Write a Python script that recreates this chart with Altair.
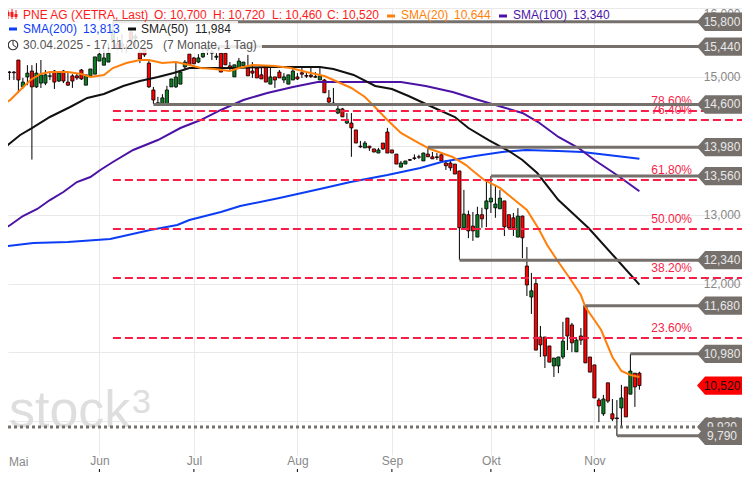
import altair as alt
import pandas as pd

# candle series (index 0 = 30.04.2025, one entry per trading day)
opens = [15490,15390,15070,15070,15245,14855,15000,15085,14855,14910,14910,15010,15085,14940,15085,14925,15015,15015,15100,14880,
15010,15040,15230,15170,15215,15535,15480,15480,15420,15650,15560,15360,15420,15200,14810,14595,14605,14605,14855,14855,
14895,15145,15330,15275,15215,15290,15390,15345,15285,15345,15345,15160,15000,15130,15160,15130,15085,15130,15030,15160,
14895,15000,15070,14955,14895,14955,15000,15060,15020,15025,15005,14955,14955,14695,14620,14475,14535,14330,14330,14230,
13995,13970,13995,13955,13895,14040,14200,13940,13880,13690,13735,13800,13825,13840,13780,13880,13840,13840,13870,13750,
13750,13735,13635,12810,13000,12835,12675,13000,13085,13185,13100,13085,13200,13000,12955,12675,12980,12255,11805,12000,
11225,11225,11095,10805,10805,10935,11500,11400,11010,11240,11680,10935,10820,10310,10110,10560,10110,10050,10195,10500,
10395,10700,10700]
highs = [15490,15390,15085,15085,15245,14985,15170,15170,15200,15245,15100,15060,15100,15085,15100,15055,15040,15055,15115,15030,
15115,15290,15390,15390,15490,15800,15580,15620,15480,15700,15620,15390,15435,15230,14855,14710,14750,14870,14970,15215,
15100,15245,15330,15290,15330,15435,15460,15390,15345,15345,15345,15215,15175,15275,15215,15320,15215,15130,15145,15160,
15130,15000,15100,15055,15030,15130,15055,15130,15070,15130,15070,15130,14970,14810,14840,14580,14550,14475,14475,14230,
14070,14070,13995,13955,13970,14040,14260,13940,13880,13780,13780,13810,13875,13870,13900,13980,13910,13895,13880,13795,
13780,13735,13635,13360,13060,13040,13115,13100,13480,13560,13420,13360,13200,13000,13025,13095,12985,12530,12155,12095,
11385,11225,11095,10920,10935,11445,11500,11430,11225,11355,11680,10935,10820,10340,10385,10560,10325,10310,10530,10500,
10980,10700,10720]
lows = [15360,15030,14955,14955,14765,14830,14880,13800,14840,14840,14880,14955,14825,14925,14910,14870,14840,14955,14955,14880,
15010,15040,15230,15170,15215,15505,15390,15350,15350,15420,15430,15200,15290,14840,14605,14595,14605,14605,14855,14840,
14895,15100,15170,15185,15200,15275,15320,15245,15245,15070,15170,15100,15000,15130,15160,15015,14985,14985,14970,14925,
14895,14840,14985,14910,14895,14955,14955,14985,14985,14985,14985,14955,14765,14620,14600,14460,14420,14315,13840,14040,
13970,13970,13925,13905,13895,13940,13895,13895,13735,13690,13735,13780,13795,13810,13780,13840,13810,13795,13780,13650,
13635,13590,12345,12810,12660,12620,12675,12810,12820,13025,12955,13085,12690,12780,12690,12675,12370,11820,11560,11035,
10935,10775,10860,10645,10700,10905,11035,11005,11010,11110,10845,10715,10340,9990,10080,10265,10005,9790,9920,10065,
10395,10210,10460]
closes = [15390,15070,15065,15060,14955,14925,15055,14855,15055,15030,15030,15015,14925,15055,14940,14880,14940,14985,14970,15030,
15115,15290,15330,15275,15345,15680,15420,15435,15410,15540,15590,15260,15320,14855,14665,14625,14695,14810,14970,14998,
15070,15215,15175,15190,15275,15345,15405,15360,15300,15070,15175,15130,15175,15230,15215,15015,15055,14985,14970,14925,
15000,14955,14985,15000,15030,15085,14970,15040,15010,15005,14995,15015,14770,14635,14605,14535,14420,14375,14260,14040,
13985,14040,13970,13910,13940,13955,13895,13895,13735,13750,13780,13790,13815,13835,13895,13840,13810,13830,13780,13710,
13680,13590,12810,13010,12765,12765,13000,12940,13200,13240,13155,13240,12825,12810,12810,12980,12665,11980,11895,11035,
11110,10950,10860,10920,10935,11165,11240,11140,11180,11180,10850,10715,10340,10225,10325,10295,10035,10040,10340,10065,
10730,10500,10520]

sma20_i = [0,2.2,4.4,6.7,8.9,11,15,18,20,23,25,28,31,33,36,39,42,44.5,47.5,51,53,56,61,64.5,68,72,74,78,81,83,86,89,93,95.5,100.5,103.5,104.5,107.5,111,114,117,119.5,121.5,124,126.5,129,130,132,133.5,136,138,140,142]
sma20_v = [14578,14665,14810,14955,15042,15071,15071,15042,14998,15028,15129,15202,15245,15245,15202,15216,15173,15129,15115,15086,15129,15173,15158,15129,15071,15013,14955,14839,14708,14578,14374,14186,14040,13953,13837,13721,13663,13504,13388,13228,13068,12807,12560,12313,12081,11834,11660,11472,11326,10935,10731,10673,10644]
sma50_i = [0,2.2,4.4,7,11,15.5,19.3,23,27.3,31,35,38.5,42,46,52,59.3,71,74,78.5,83.3,87,90.7,96,101,104,108.5,113,116,119.3,124,130.7,136.7,142]
sma50_v = [13924,14040,14157,14258,14418,14563,14694,14752,14868,14940,14998,15057,15129,15129,15129,15144,15144,15115,15028,14868,14824,14723,14563,14418,14258,14084,13924,13794,13605,13213,12807,12371,11984]
sma100_i = [0,2.2,5,8.2,11,14,17,20,22.2,25,29.5,35,40,44.5,49,54,59.3,65,70.5,83.3,89,94.5,100.5,105.5,111.5,116,119.5,124,128.5,132,137,142]
sma100_v = [12763,12850,12981,13083,13213,13329,13474,13547,13649,13765,13939,14084,14258,14374,14520,14665,14766,14853,14926,14926,14926,14868,14781,14679,14563,14476,14345,14128,13968,13794,13576,13340]
sma200_i = [0,7.3,15,24.4,33.3,39.3,42,49,53.3,62,71,77.8,86,93.3,98,105.5,111.5,116.7,124,129.3,135,142]
sma200_v = [12531,12589,12604,12647,12778,12850,12923,13039,13126,13242,13373,13474,13576,13678,13765,13852,13910,13939,13924,13910,13867,13813]

level_start = [25,46,34,95,109,102,130,140]
level_value = [15800,15440,14600,13980,13560,12340,11680,10980]
low_level_start = 137
low_level_value = 9790
dotted_value = 9920
last_value = 10520

fib_pct = ["78.60%","76.40%","61.80%","50.00%","38.20%","23.60%"]
fib_value = [14505,14375,13503,12792,12081,11210]
fib_start = 25

y_ticks = [16000,15000,14000,13000,12000,11000,10000]
month_pos = [22,43,66,87,109,132]
month_txt = ["Jun","Jul","Aug","Sep","Okt","Nov"]

FONT = "Liberation Sans"
GRAY = "#76706c"
RED = "#f81e47"
W, H = 734, 447
XS = alt.Scale(domain=[1.689,164.8], range=[0,W], nice=False, zero=False, padding=0)
YS = alt.Scale(domain=[16000,16000-H*14.514], range=[0,H], nice=False, zero=False, padding=0)
one = pd.DataFrame({"a":[0]})

def txt(x,y,s,color,size=12,align="left",baseline="middle",**kw):
    return alt.Chart(one).mark_text(text=s,color=color,fontSize=size,font=FONT,align=align,baseline=baseline,clip=False,**kw).encode(
        x=alt.value(x-8),y=alt.value(y-8))

def rule(x1,y1,x2,y2,color,w=1):
    return alt.Chart(one).mark_rule(color=color,strokeWidth=w,clip=False).encode(
        x=alt.value(x1-8),x2=alt.value(x2-8),y=alt.value(y1-8),y2=alt.value(y2-8))

candles = pd.DataFrame({"i":range(len(opens)),"o":opens,"h":highs,"l":lows,"c":closes})
candles["dir"] = ["up" if c>o else "down" for o,c in zip(opens,closes)]

# base layer: axes and gridlines
month_map = "{" + ",".join(f"'{p}':'{t}'" for p,t in zip(month_pos,month_txt)) + "}"
base = alt.Chart(candles).mark_rule(color="black",strokeWidth=1,clip=False).encode(
    x=alt.X("i:Q",scale=XS,title=None,axis=alt.Axis(values=month_pos,grid=True,gridColor="#e9e9e9",ticks=False,domain=False,
        labelExpr=month_map+"[datum.value]",labelColor="#888888",labelFont=FONT,labelFontSize=12,labelPadding=0,labelOverlap=False,zindex=0)),
    y=alt.Y("h:Q",scale=YS,title=None,axis=alt.Axis(orient="right",values=y_ticks,format=",d",grid=True,gridColor="#e9e9e9",ticks=False,domain=False,
        labelAlign="right",labelPadding=-2,labelColor="#888888",labelFont=FONT,labelFontSize=12,labelFlush=True,labelOverlap=False,zindex=0)),
    y2="l:Q")

month_ticks = alt.Chart(pd.DataFrame({"i":month_pos})).mark_rule(color="black",strokeWidth=1,clip=False).encode(
    x=alt.X("i:Q",scale=XS),y=alt.value(461),y2=alt.value(464))

bodies = alt.Chart(candles).mark_bar(size=3.2,stroke="black",strokeWidth=0.8,orient="vertical",clip=False).encode(
    x=alt.X("i:Q",scale=XS),
    y=alt.Y("o:Q",scale=YS),y2="c:Q",
    fill=alt.Fill("dir:N",scale=alt.Scale(domain=["up","down"],range=["#0b7d22","#ff0000"]),legend=None))

def sma(idx,vals,color):
    d = pd.DataFrame({"i":idx,"v":vals})
    return alt.Chart(d).mark_line(color=color,strokeWidth=2,clip=False).encode(
        x=alt.X("i:Q",scale=XS),y=alt.Y("v:Q",scale=YS),order="i:Q")

BLUE,BLACK,PURPLE,ORANGE = "#0b3df5","#111111","#4b13a5","#ff7f0a"

fibs = pd.DataFrame({"i":[fib_start]*6,"v":fib_value,"t":fib_pct})
fib_lines = alt.Chart(fibs).mark_rule(color=RED,strokeWidth=2,strokeDash=[8,4],clip=False).encode(
    x=alt.X("i:Q",scale=XS),x2=alt.value(W),y=alt.Y("v:Q",scale=YS))
fib_text = alt.Chart(fibs).mark_text(color=RED,fontSize=12,font=FONT,align="right",baseline="middle",dy=-10,clip=False).encode(
    x=alt.value(684),y=alt.Y("v:Q",scale=YS),text="t:N")

levels = pd.DataFrame({"i":level_start,"v":level_value})
level_lines = alt.Chart(levels).mark_rule(color=GRAY,strokeWidth=3,clip=False).encode(
    x=alt.X("i:Q",scale=XS),x2=alt.value(W),y=alt.Y("v:Q",scale=YS))
low_line = alt.Chart(pd.DataFrame({"i":[low_level_start],"v":[low_level_value]})).mark_rule(color=GRAY,strokeWidth=3,clip=False).encode(
    x=alt.X("i:Q",scale=XS),x2=alt.value(W),y=alt.Y("v:Q",scale=YS))
dotted = alt.Chart(pd.DataFrame({"v":[dotted_value]})).mark_rule(color=GRAY,strokeWidth=3,strokeDash=[3,3],clip=False).encode(
    x=alt.value(0),x2=alt.value(W),y=alt.Y("v:Q",scale=YS))

TAG = "M-1,0 L-0.7,-0.34 L1,-0.34 L1,0.34 L-0.7,0.34 Z"
def tag(vals,fill,tcolor):
    d = pd.DataFrame({"v":vals})
    d["t"] = [f"{v:,}" for v in vals]
    a = alt.Chart(d).mark_point(shape=TAG,size=2916,filled=True,fill=fill,opacity=1,strokeWidth=0,clip=False).encode(
        x=alt.value(716),y=alt.Y("v:Q",scale=YS))
    b = alt.Chart(d).mark_text(color=tcolor,fontSize=12,font=FONT,align="center",baseline="middle",clip=False).encode(
        x=alt.value(714),y=alt.Y("v:Q",scale=YS),text="t:N")
    return [a,b]

def box(x1,y1,x2,y2):
    return alt.Chart(one).mark_rect(fill="white",opacity=0.86,clip=False).encode(
        x=alt.value(x1-8),x2=alt.value(x2-8),y=alt.value(y1-8),y2=alt.value(y2-8))

HR = "#ff1a1a"
R1 = 15
layers = [
    base, month_ticks,
    txt(9,427,"stock","#dedede",size=52,baseline="alphabetic"),
    txt(132,413,"3","#dedede",size=34,baseline="alphabetic"),
    bodies,
    sma(sma200_i,sma200_v,BLUE), sma(sma100_i,sma100_v,PURPLE), sma(sma50_i,sma50_v,BLACK), sma(sma20_i,sma20_v,ORANGE),
    fib_text, fib_lines, level_lines, low_line, dotted,
]
for v in level_value:
    layers += tag([v],GRAY,"#e8e8e8")
layers += tag([dotted_value],GRAY,"#e8e8e8")
layers += tag([low_level_value],GRAY,"#e8e8e8")
layers += tag([last_value],"#ff0000","#111111")
layers += [
    box(0,21,238,37), box(0,37,262,53),
    txt(9,462,"Mai","#888888"),
    rule(8,10,8,19,HR), rule(12,9,12,19,HR), rule(16,10,16,19,HR), rule(8,12,8,16,HR,3), rule(12,12,12,17,HR,3), rule(16,14,16,17,HR,3),
    txt(23,R1,"PNE AG (XETRA, Last)",HR), txt(154,R1,"O: 10,700",HR), txt(213,R1,"H: 10,720",HR),
    txt(272,R1,"L: 10,460",HR), txt(327,R1,"C: 10,520",HR),
    rule(387,R1+1,395,R1+1,ORANGE,3), txt(401,R1,"SMA(20)",ORANGE), txt(454,R1,"10,644",ORANGE),
    rule(499,R1+1,507,R1+1,PURPLE,3), txt(513,R1,"SMA(100)",PURPLE), txt(573,R1,"13,340",PURPLE),
    rule(9,29,17,29,BLUE,3), txt(23,29,"SMA(200)",BLUE), txt(83,29,"13,813",BLUE),
    rule(128,29,136,29,BLACK,3), txt(141,29,"SMA(50)","#222222"), txt(195,29,"11,984","#222222"),
    alt.Chart(one).mark_point(shape="circle",size=90,filled=False,color="#333333",strokeWidth=1.2,opacity=1,clip=False).encode(x=alt.value(5),y=alt.value(37)),
    rule(13,41,13,45,"#333333"), rule(13,45,16,47,"#333333"),
    txt(23,45,"30.04.2025 - 17.11.2025","#555555"), txt(163,45,"(7 Monate, 1 Tag)","#555555"),
]

chart = alt.layer(*layers).resolve_scale(x="shared",y="shared").properties(
    width=W,height=H,padding={"left":0,"top":0,"right":0,"bottom":17},
    autosize=alt.AutoSizeParams(type="none"),background="white"
).configure_view(stroke=None)

chart.save("out.html", embed_options={"renderer":"svg","actions":False})
